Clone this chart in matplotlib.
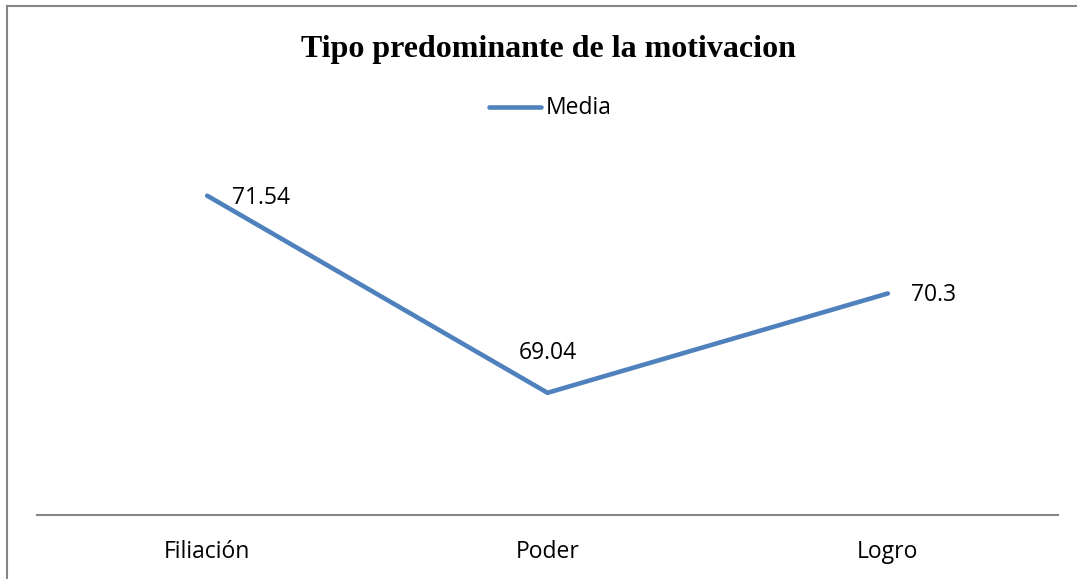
import matplotlib
matplotlib.use("Agg")
import matplotlib.pyplot as plt
from matplotlib.lines import Line2D

categories = ["Filiación", "Poder", "Logro"]
media = [71.54, 69.04, 70.3]
labels = ["71.54", "69.04", "70.3"]
series_name = "Media"
title = "Tipo predominante de la motivacion"

W, H = 1077, 579
fig = plt.figure(figsize=(W / 100, H / 100), dpi=100)
fig.patch.set_facecolor("white")

# outer border (left and top visible)
fig.add_artist(Line2D([7 / W, 7 / W], [0, 1 - 6 / H], transform=fig.transFigure,
                      color="#868686", lw=1.5))
fig.add_artist(Line2D([7 / W, 1], [1 - 6 / H, 1 - 6 / H], transform=fig.transFigure,
                      color="#868686", lw=1.5))

left, right = 37 / W, 1058 / W
bottom = (H - 515) / H
top = (H - 120) / H
ax = fig.add_axes([left, bottom, right - left, top - bottom])

x = list(range(len(categories)))
line, = ax.plot(x, media, color="#4F81BD", lw=3.3, solid_capstyle="round")
ax.set_xlim(-0.5, len(categories) - 0.5)
ax.set_ylim(67.49, 72.50)

for s in ["top", "right", "left"]:
    ax.spines[s].set_visible(False)
ax.spines["bottom"].set_color("#868686")
ax.spines["bottom"].set_linewidth(1.5)
ax.set_yticks([])
ax.set_xticks(x)
fs = 16.5
ax.set_xticklabels(categories, fontsize=fs, family="Open Sans")
ax.tick_params(axis="x", length=0, pad=18)

ax.annotate(labels[0], (x[0], media[0]), xytext=(25, -2), textcoords="offset pixels",
            ha="left", va="center", fontsize=fs, family="Open Sans")
ax.annotate(labels[1], (x[1], media[1]), xytext=(0, 40), textcoords="offset pixels",
            ha="center", va="center", fontsize=fs, family="Open Sans")
ax.annotate(labels[2], (x[2], media[2]), xytext=(23, -2), textcoords="offset pixels",
            ha="left", va="center", fontsize=fs, family="Open Sans")

fig.text(548 / W, 1 - 49 / H, title, ha="center", va="center", fontsize=23,
         fontweight="bold", family="Liberation Serif")

fig.add_artist(Line2D([489 / W, 541 / W], [1 - 107 / H, 1 - 107 / H],
                      transform=fig.transFigure, color="#4F81BD", lw=3.3,
                      solid_capstyle="round"))
fig.text(546 / W, 1 - 108 / H, series_name, ha="left", va="center", fontsize=fs,
         family="Open Sans")

fig.savefig("out.png", dpi=100)
